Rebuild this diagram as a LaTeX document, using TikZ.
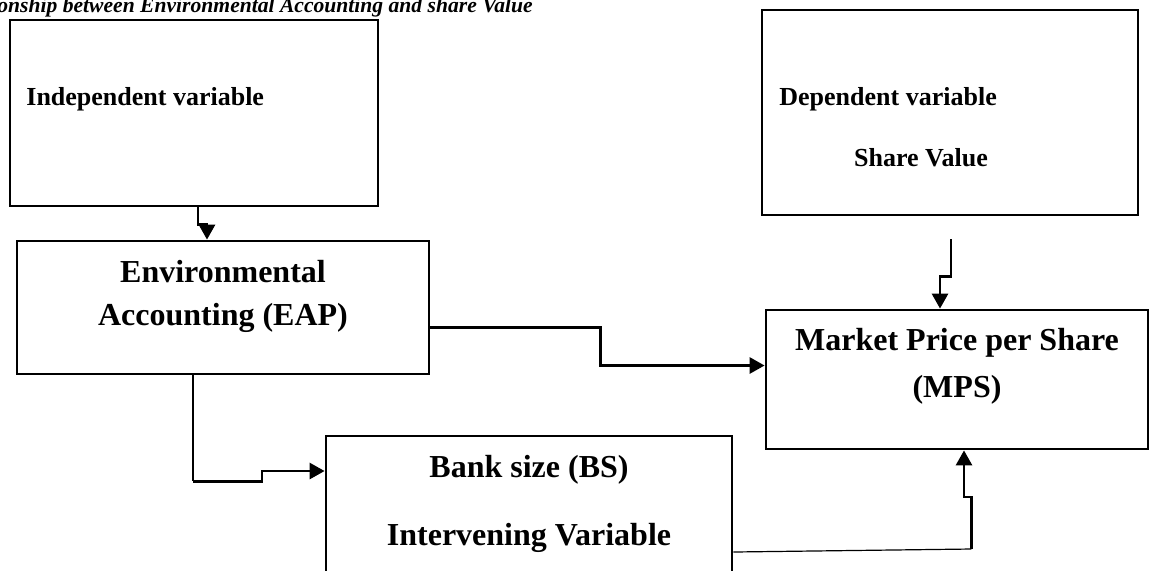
\documentclass[tikz,border=0pt]{standalone}
\usepackage{fontspec}
\setmainfont{Liberation Serif}
\usetikzlibrary{arrows.meta}

\tikzset{
  varbox/.style={draw,line width=1.4pt,inner sep=0pt},
  link/.style={line width=1.4pt,-{Triangle[width=8pt,length=7.5pt]}},
  thinlink/.style={line width=0.6pt},
  small/.style={font=\fontsize{13}{15}\selectfont\bfseries},
  big/.style={font=\fontsize{16}{21.5}\selectfont\bfseries,align=center}
}

\begin{document}
\begin{tikzpicture}[x=0.5pt,y=-0.5pt]
\useasboundingbox (0,0) rectangle (1150,570);

%title
\node[anchor=base west,inner sep=0pt,font=\fontsize{10.8}{13}\selectfont\bfseries\itshape] (title) at (-3,12) {onship between Environmental Accounting and share Value};

%boxes
\node[varbox,minimum width=184pt,minimum height=93pt] (indep) at (194,113) {};
\node[varbox,minimum width=206pt,minimum height=66.5pt] (eap) at (223,307.5) {};
\node[varbox,minimum width=188pt,minimum height=102.5pt] (depend) at (950,112.5) {};
\node[varbox,minimum width=191pt,minimum height=69.5pt] (mps) at (957,379.5) {};
\node[varbox,minimum width=203pt,minimum height=82pt] (bank) at (529,518) {};

%texts
\node[small,anchor=base west,inner sep=0pt] (indeptxt) at (26,105) {Independent variable};
\node[small,anchor=base west,inner sep=0pt] (deptxt) at (779,105) {Dependent variable};
\node[small,anchor=base,inner sep=0pt] (sharetxt) at (921,166) {Share Value};
\node[big,anchor=base,inner sep=0pt] (eaptxt1) at (223,282) {Environmental};
\node[big,anchor=base,inner sep=0pt] (eaptxt2) at (223,325) {Accounting (EAP)};
\node[big,anchor=base,inner sep=0pt] (mpstxt1) at (957,350) {Market Price per Share};
\node[big,anchor=base,inner sep=0pt] (mpstxt2) at (957,397) {(MPS)};
\node[big,anchor=base,inner sep=0pt] (banktxt1) at (529,477) {Bank size (BS)};
\node[big,anchor=base,inner sep=0pt] (banktxt2) at (529,545) {Intervening Variable};

%arrows
\draw[link] ([xshift=2pt]indep.south) -- ++(0,17) -| ([xshift=-8pt]eap.north);
\draw[link] ([yshift=-10pt]eap.east) -- ++(170,0) |- ([yshift=7pt]mps.west);

\draw[thinlink] ([xshift=-15pt]eap.south) -- ++(0,106) coordinate (bendA);
\draw[link] (bendA) -- ++(69,0) |- ([yshift=23.5pt]bank.west);

\draw[thinlink] ([yshift=-17pt]bank.east) -- ++(238,-3) coordinate (bendB);
\draw[link] (bendB) -- ++(0,-52) -| ([xshift=3.5pt]mps.south);

\coordinate (topend) at ([xshift=0.5pt,yshift=-11.5pt]depend.south);
\draw[link] (topend) -- ++(0,37) -| ([xshift=-8.5pt]mps.north);
\end{tikzpicture}
\end{document}
